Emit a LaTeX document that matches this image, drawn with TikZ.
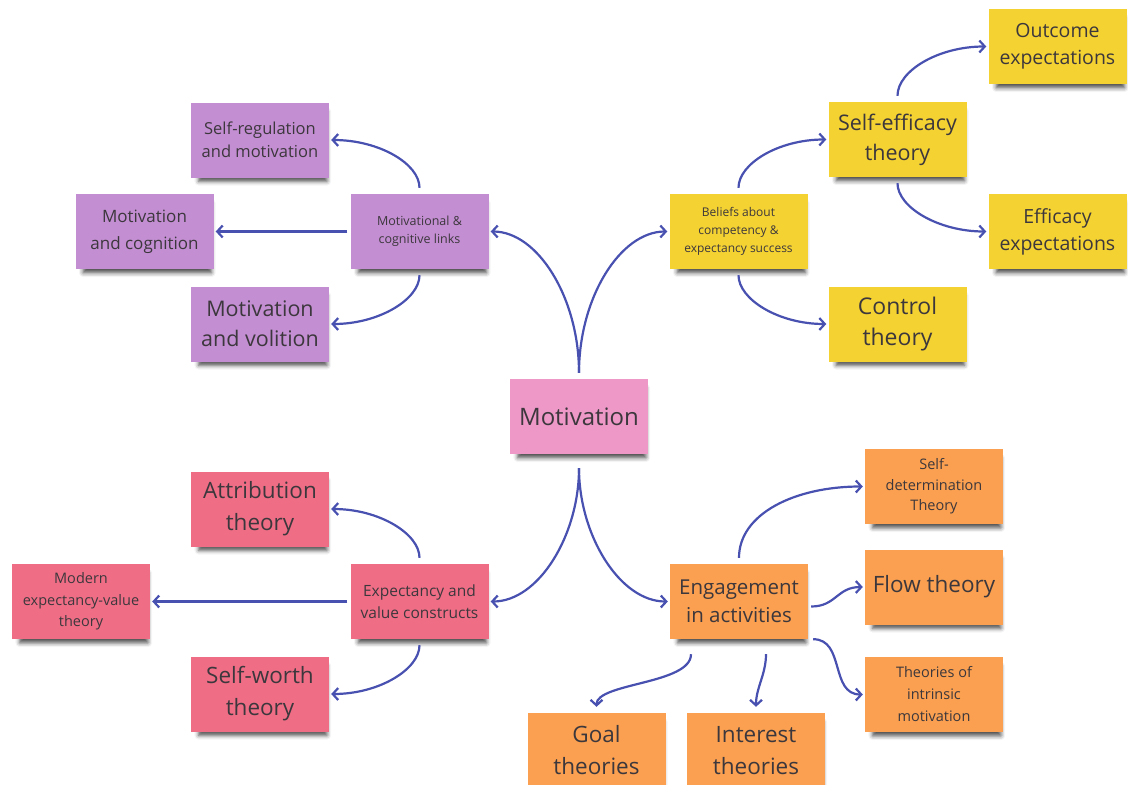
\documentclass[tikz,border=0pt]{standalone}
\usepackage{fontspec}
\setmainfont{Open Sans}
\usetikzlibrary{arrows.meta,shadows.blur}

\definecolor{cPurple}{RGB}{195,142,210}
\definecolor{cPink}{RGB}{237,152,198}
\definecolor{cYellow}{RGB}{244,210,50}
\definecolor{cRed}{RGB}{239,110,134}
\definecolor{cOrange}{RGB}{250,160,80}
\definecolor{cArrow}{RGB}{72,80,176}
\definecolor{cText}{RGB}{60,55,60}

\begin{document}
\begin{tikzpicture}[x=1pt,y=-1pt,
  note/.style={minimum width=138pt,minimum height=75pt,inner sep=0pt,align=center,
    text=cText,
    blur shadow={shadow xshift=3pt,shadow yshift=-7pt,shadow scale=0.93,
      shadow blur radius=4.5pt,shadow opacity=70}},
  fs/.style 2 args={font=\fontsize{#1pt}{#2pt}\selectfont},
  link/.style={draw=cArrow,line width=2.2pt,
    -{Straight Barb[length=5.5pt,width=12pt]},shorten <=5pt,shorten >=2pt}]

\useasboundingbox (0,0) rectangle (1128,785);

% centre
\node[note,fill=cPink,fs={24}{32}] (mot) at (579,416.5) {Motivation};

% upper left: motivational and cognitive links
\node[note,fill=cPurple,fs={12.5}{18}] (mcl) at (419.5,231.5) {Motivational \&\\cognitive links};
\node[note,fill=cPurple,fs={16.5}{23}] (selfreg) at (260,140) {Self-regulation\\and motivation};
\node[note,fill=cPurple,fs={17}{27}] (mcog) at (144.5,231.5) {Motivation\\and cognition};
\node[note,fill=cPurple,fs={21.5}{30}] (mvol) at (260,324) {Motivation\\and volition};

% upper right: beliefs about competency
\node[note,fill=cYellow,fs={12}{18}] (bel) at (738.5,231.5) {Beliefs about\\competency \&\\expectancy success};
\node[note,fill=cYellow,fs={21.5}{30}] (seff) at (897.5,139.5) {Self-efficacy\\theory};
\node[note,fill=cYellow,fs={19.5}{27}] (outc) at (1057.5,46.5) {Outcome\\expectations};
\node[note,fill=cYellow,fs={19.5}{27}] (effx) at (1057.5,231.5) {Efficacy\\expectations};
\node[note,fill=cYellow,fs={23}{31}] (ctrl) at (897.5,324) {Control\\theory};

% lower left: expectancy and value
\node[note,fill=cRed,fs={15.5}{22}] (exv) at (419.5,601.5) {Expectancy and\\value constructs};
\node[note,fill=cRed,fs={22.5}{32}] (attr) at (260,509) {Attribution\\theory};
\node[note,fill=cRed,fs={14.5}{21.5}] (modern) at (81,601.5) {Modern\\expectancy-value\\theory};
\node[note,fill=cRed,fs={22.5}{32}] (sworth) at (260,694) {Self-worth\\theory};

% lower right: engagement in activities
\node[note,fill=cOrange,fs={20.5}{28.5}] (eng) at (739,601.5) {Engagement\\in activities};
\node[note,fill=cOrange,fs={14.5}{20.5}] (sdt) at (934,486.5) {Self-\\determination\\Theory};
\node[note,fill=cOrange,fs={22.5}{31}] (flow) at (934,587) {Flow theory};
\node[note,fill=cOrange,fs={14.5}{22}] (intr) at (934,694.5) {Theories of\\intrinsic\\motivation};
\node[note,fill=cOrange,fs={22.5}{32}] (goal) at (596.5,750.5) {Goal\\theories};
\node[note,fill=cOrange,fs={22.5}{32}] (inter) at (756,750.5) {Interest\\theories};

% connectors from the centre
\draw[link,shorten <=6pt] (mot.north) .. controls +(0,-81) and +(49,0) .. (mcl.east);
\draw[link,shorten <=6pt] (mot.north) .. controls +(0,-81) and +(-49,0) .. (bel.west);
\draw[link,shorten <=14pt] (mot.south) .. controls +(0,81) and +(50,0) .. (exv.east);
\draw[link,shorten <=14pt] (mot.south) .. controls +(0,81) and +(-50,0) .. (eng.west);

% purple branch
\draw[link,shorten <=6pt] (mcl.north) .. controls +(0,-30) and +(50,0) .. (selfreg.east);
\draw[link,shorten <=3pt] (mcl.west) -- (mcog.east);
\draw[link,shorten <=6pt] (mcl.south) .. controls +(0,30) and +(50,0) .. (mvol.east);

% yellow branch
\draw[link,shorten <=6pt] (bel.north) .. controls +(0,-30) and +(-50,0) .. (seff.west);
\draw[link,shorten <=6pt] (bel.south) .. controls +(0,30) and +(-50,0) .. (ctrl.west);
\draw[link,shorten <=6pt] (seff.north) .. controls +(0,-31) and +(-50,0) .. (outc.west);
\draw[link,shorten <=6pt] (seff.south) .. controls +(0,30) and +(-50,0) .. (effx.west);

% red branch
\draw[link,shorten <=6pt] (exv.north) .. controls +(0,-30) and +(50,0) .. (attr.east);
\draw[link,shorten <=3pt] (exv.west) -- (modern.east);
\draw[link,shorten <=6pt] (exv.south) .. controls +(0,30) and +(50,0) .. (sworth.east);

% orange branch
\draw[link,shorten <=6pt] (eng.north) .. controls +(0,-50) and +(-70,0) .. (sdt.west);
\draw[link,shorten <=3pt] ([yshift=-5pt]eng.east) .. controls +(28,0) and +(-28,0) .. (flow.west);
\draw[link,shorten <=3pt] ([xshift=2pt]eng.south east) .. controls +(35,0) and +(-35,0) .. (intr.west);
\draw[link,shorten <=15pt,shorten >=6pt] ([xshift=-48pt]eng.south) .. controls +(0,45) and +(0,-30) .. (goal.north);
\draw[link,shorten <=15pt,shorten >=6pt] ([xshift=27pt]eng.south) .. controls +(0,35) and +(0,-25) .. (inter.north);

\end{tikzpicture}
\end{document}
